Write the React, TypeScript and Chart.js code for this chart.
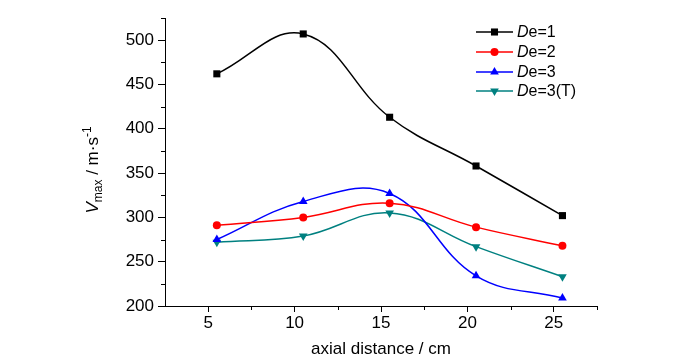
import React, { useEffect, useRef } from "react";
import { Chart, registerables } from "chart.js";

Chart.register(...registerables);

const xPositions = [5.5, 10.5, 15.5, 20.5, 25.5];
const seriesNames = ["1", "2", "3", "3(T)"];
const de1 = [462, 507, 413, 358, 302];
const de2 = [291, 300, 316, 289, 268];
const de3 = [275, 318, 327, 234, 209];
const de3T = [272, 279, 305, 267, 233];
const xTicks = [5, 10, 15, 20, 25];
const yTicks = [200, 250, 300, 350, 400, 450, 500];
const xMinor = [7.5, 12.5, 17.5, 22.5, 27.5];
const yMinor = [225, 275, 325, 375, 425, 475, 525];

const colors = ["#000000", "#ff0000", "#0000ff", "#008080"];
const styles = ["rect", "circle", "triangle", "triangle"];
const rotations = [0, 0, 0, 180];
const radii = [5, 4, 5, 5];

const FONT = "'Liberation Sans', Arial, sans-serif";

function drawMarker(ctx: any, style: string, rot: number, r: number, x: number, y: number, color: string) {
  ctx.save();
  ctx.fillStyle = color;
  ctx.translate(x, y);
  ctx.rotate((rot * Math.PI) / 180);
  ctx.beginPath();
  if (style === "rect") {
    const s = r * Math.SQRT1_2;
    ctx.rect(-s, -s, 2 * s, 2 * s);
  } else if (style === "circle") {
    ctx.arc(0, 0, r, 0, Math.PI * 2);
  } else {
    ctx.moveTo(0, -r);
    ctx.lineTo(r * Math.cos(Math.PI / 6), r * 0.5);
    ctx.lineTo(-r * Math.cos(Math.PI / 6), r * 0.5);
    ctx.closePath();
  }
  ctx.fill();
  ctx.restore();
}

const decorPlugin = {
  id: "decor",
  afterDraw(chart: any) {
    const ctx = chart.ctx;
    const xs = chart.scales.x;
    const ys = chart.scales.y;
    const area = chart.chartArea;
    ctx.save();
    ctx.strokeStyle = "#000";
    ctx.lineWidth = 1;
    ctx.beginPath();
    yMinor.forEach((v) => {
      const py = Math.round(ys.getPixelForValue(v)) + 0.5;
      ctx.moveTo(area.left - 4, py);
      ctx.lineTo(area.left, py);
    });
    xMinor.forEach((v) => {
      const px = Math.round(xs.getPixelForValue(v)) + 0.5;
      ctx.moveTo(px, area.bottom);
      ctx.lineTo(px, area.bottom + 4);
    });
    ctx.stroke();

    ctx.fillStyle = "#000";
    ctx.font = `17px ${FONT}`;
    ctx.textAlign = "center";
    ctx.textBaseline = "alphabetic";
    ctx.fillText("axial distance / cm", (area.left + area.right) / 2, 354);

    const parts = [
      { t: "V", f: `italic 17px ${FONT}`, dy: 0 },
      { t: "max", f: `12px ${FONT}`, dy: 4 },
      { t: " / m·s", f: `17px ${FONT}`, dy: 0 },
      { t: "-1", f: `12px ${FONT}`, dy: -7 },
    ];
    let total = 0;
    const widths = parts.map((p) => {
      ctx.font = p.f;
      const w = ctx.measureText(p.t).width;
      total += w;
      return w;
    });
    ctx.translate(98, 170);
    ctx.rotate(-Math.PI / 2);
    ctx.textAlign = "left";
    let cx = -total / 2;
    parts.forEach((p, i) => {
      ctx.font = p.f;
      ctx.fillText(p.t, cx, p.dy);
      cx += widths[i];
    });
    ctx.setTransform(1, 0, 0, 1, 0, 0);

    const lx0 = 476;
    const lx1 = 513;
    const rowY = [32, 52, 72, 91];
    chart.data.datasets.forEach((_ds: any, i: number) => {
      const y = rowY[i];
      ctx.strokeStyle = colors[i];
      ctx.lineWidth = 1.5;
      ctx.beginPath();
      ctx.moveTo(lx0, y);
      ctx.lineTo(lx1, y);
      ctx.stroke();
      drawMarker(ctx, styles[i], rotations[i], radii[i], (lx0 + lx1) / 2, y, colors[i]);
      ctx.fillStyle = "#000";
      ctx.textBaseline = "middle";
      ctx.textAlign = "left";
      ctx.font = `italic 16px ${FONT}`;
      ctx.fillText("D", 517, y + 1);
      const wD = ctx.measureText("D").width;
      ctx.font = `16px ${FONT}`;
      ctx.fillText("e=" + seriesNames[i], 517 + wD, y + 1);
    });
    ctx.restore();
  },
};

export default function App() {
  const ref = useRef<HTMLCanvasElement | null>(null);
  useEffect(() => {
    if (!ref.current) return;
    const allSeries = [de1, de2, de3, de3T];
    const chart = new Chart(ref.current, {
      type: "line",
      data: {
        datasets: allSeries.map((vals, i) => ({
          label: "De=" + seriesNames[i],
          data: vals.map((v, j) => ({ x: xPositions[j], y: v })),
          borderColor: colors[i],
          backgroundColor: colors[i],
          borderWidth: 1.5,
          pointStyle: styles[i] as any,
          pointRotation: rotations[i],
          pointRadius: radii[i],
          pointBorderWidth: 0,
          tension: 0.4,
          fill: false,
        })),
      },
      options: {
        animation: false,
        responsive: false,
        layout: { padding: { left: 0, right: 103, top: 18, bottom: 0 } },
        plugins: { legend: { display: false }, tooltip: { enabled: false } },
        scales: {
          x: {
            type: "linear",
            min: 2.5,
            max: 27.5,
            afterFit: (s: any) => {
              s.height = 51;
            },
            afterBuildTicks: (s: any) => {
              s.ticks = xTicks.map((v) => ({ value: v }));
            },
            grid: { drawOnChartArea: false, drawTicks: true, tickLength: 6, color: "#000" },
            border: { display: true, color: "#000", width: 1 },
            ticks: { color: "#000", font: { family: FONT, size: 17 }, padding: 1, maxRotation: 0 },
          },
          y: {
            type: "linear",
            min: 200,
            max: 525,
            afterFit: (s: any) => {
              s.width = 165;
            },
            afterBuildTicks: (s: any) => {
              s.ticks = yTicks.map((v) => ({ value: v }));
            },
            grid: { drawOnChartArea: false, drawTicks: true, tickLength: 7, color: "#000" },
            border: { display: true, color: "#000", width: 1 },
            ticks: { color: "#000", font: { family: FONT, size: 17 }, padding: 4 },
          },
        },
      },
      plugins: [decorPlugin],
    });
    return () => chart.destroy();
  }, []);
  return (
    <div style={{ position: "absolute", left: 0, top: 0, width: 700, height: 357, background: "#fff" }}>
      <canvas ref={ref} width={700} height={357} style={{ display: "block" }} />
    </div>
  );
}
